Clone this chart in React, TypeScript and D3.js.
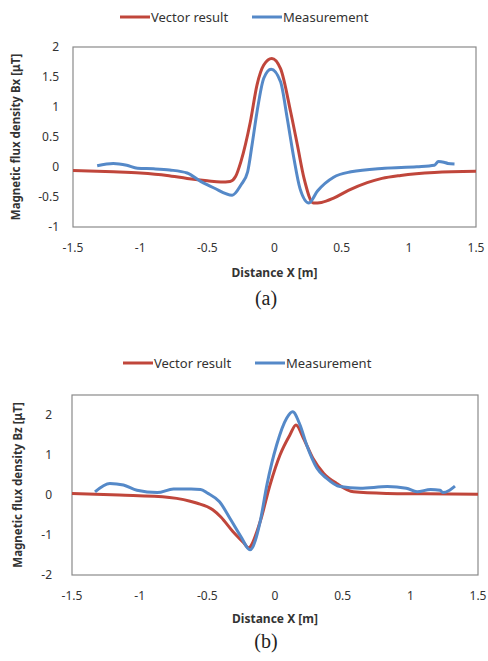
import React from 'react';
import * as d3 from 'd3';

// --- data ---
const xTicks = [-1.5, -1, -0.5, 0, 0.5, 1, 1.5];
const bxTicks = [-1, -0.5, 0, 0.5, 1, 1.5, 2];
const bzTicks = [-2, -1, 0, 1, 2];
const seriesNames = ['Vector result', 'Measurement'];

const vectorBx: [number, number][] = [
  [-1.5, -0.06], [-1.2, -0.08], [-1.0, -0.1], [-0.8, -0.14], [-0.65, -0.19],
  [-0.5, -0.23], [-0.4, -0.25], [-0.33, -0.24], [-0.29, -0.16], [-0.25, 0.09],
  [-0.18, 0.75], [-0.13, 1.37], [-0.08, 1.7], [-0.02, 1.81], [0.045, 1.64],
  [0.12, 0.92], [0.17, 0.37], [0.22, -0.19], [0.29, -0.6], [0.35, -0.59],
  [0.44, -0.52], [0.55, -0.39], [0.69, -0.26], [0.8, -0.19], [0.94, -0.14],
  [1.19, -0.09], [1.5, -0.07],
];
const measBx: [number, number][] = [
  [-1.32, 0.02], [-1.2, 0.06], [-1.1, 0.03], [-1.02, -0.02], [-0.9, -0.03],
  [-0.78, -0.05], [-0.65, -0.1], [-0.55, -0.24], [-0.45, -0.35], [-0.315, -0.47],
  [-0.25, -0.3], [-0.2, -0.08], [-0.167, 0.37], [-0.13, 0.92], [-0.08, 1.48],
  [-0.025, 1.63], [0.045, 1.42], [0.095, 0.81], [0.144, 0.15], [0.19, -0.36],
  [0.256, -0.6], [0.32, -0.4], [0.44, -0.17], [0.57, -0.08], [0.82, -0.02],
  [1.06, 0.005], [1.19, 0.03], [1.22, 0.09], [1.26, 0.08], [1.29, 0.06], [1.34, 0.05],
];
const vectorBz: [number, number][] = [
  [-1.5, 0.04], [-1.15, 0.0], [-0.78, -0.06], [-0.58, -0.2], [-0.46, -0.37],
  [-0.4, -0.55], [-0.31, -0.92], [-0.23, -1.2], [-0.197, -1.32], [-0.11, -0.67],
  [-0.037, 0.25], [0.037, 1.0], [0.11, 1.5], [0.155, 1.75], [0.21, 1.42],
  [0.28, 0.92], [0.36, 0.54], [0.456, 0.29], [0.58, 0.08], [0.83, 0.04],
  [1.07, 0.03], [1.5, 0.02],
];
const measBz: [number, number][] = [
  [-1.33, 0.08], [-1.22, 0.29], [-1.12, 0.25], [-1.02, 0.12], [-0.87, 0.06],
  [-0.75, 0.15], [-0.62, 0.15], [-0.55, 0.14], [-0.5, 0.05], [-0.41, -0.17],
  [-0.33, -0.6], [-0.25, -1.05], [-0.185, -1.37], [-0.11, -0.67], [-0.06, 0.25],
  [0.012, 1.25], [0.086, 1.92], [0.13, 2.08], [0.185, 1.75], [0.234, 1.25],
  [0.31, 0.67], [0.38, 0.42], [0.48, 0.21], [0.63, 0.17], [0.83, 0.21],
  [0.97, 0.17], [1.05, 0.08], [1.15, 0.14], [1.22, 0.12], [1.24, 0.06],
  [1.29, 0.12], [1.33, 0.22],
];

const RED = '#c0463b';
const BLUE = '#5589c8';
const FONT = '"Noto Sans", "Open Sans", sans-serif';

const Panel = (props: any) => {
  const {top, left, right, plotTop, plotBottom, yDomain, yTicks, yTitle, vec, meas, caption, legendX, labelGap, titleX} = props;
  const x = d3.scaleLinear().domain([-1.5, 1.5]).range([left, right]);
  const y = d3.scaleLinear().domain(yDomain).range([plotBottom, plotTop]);
  const line = d3.line<[number, number]>().x(d => x(d[0])).y(d => y(d[1])).curve(d3.curveMonotoneX);
  const legendY = top;
  return (
    <g>
      {/* legend */}
      <line x1={legendX} x2={legendX + 30} y1={legendY} y2={legendY} stroke={RED} strokeWidth={3} />
      <text x={legendX + 31} y={legendY + 4.5} fontSize={13} fill="#333" fontFamily={FONT}>{seriesNames[0]}</text>
      <line x1={legendX + 132} x2={legendX + 162} y1={legendY} y2={legendY} stroke={BLUE} strokeWidth={3} />
      <text x={legendX + 163} y={legendY + 4.5} fontSize={13} fill="#333" fontFamily={FONT}>{seriesNames[1]}</text>

      <rect x={left} y={plotTop} width={right - left} height={plotBottom - plotTop} fill="white" stroke="#8a8a8a" strokeWidth={1.2} />

      <path d={line(vec) || ''} fill="none" stroke={RED} strokeWidth={3} strokeLinejoin="round" />
      <path d={line(meas) || ''} fill="none" stroke={BLUE} strokeWidth={3} strokeLinejoin="round" />

      {yTicks.map((t: number) => (
        <text key={'y' + t} x={left - labelGap} y={y(t) + 4} textAnchor="end" fontSize={12} fill="#333" fontFamily={FONT}>{t}</text>
      ))}
      {xTicks.map(t => (
        <text key={'x' + t} x={x(t)} y={plotBottom + 25} textAnchor="middle" fontSize={12} fill="#333" fontFamily={FONT}>{t}</text>
      ))}
      <text x={x(0)} y={plotBottom + props.titleDy} textAnchor="middle" fontSize={12} fontWeight="bold" fill="#333" fontFamily={FONT}>Distance X [m]</text>
      <text transform={`translate(${titleX},${(plotTop + plotBottom) / 2}) rotate(-90)`} textAnchor="middle" fontSize={11.5} fontWeight="bold" fill="#333" fontFamily={FONT}>{yTitle}</text>
      <text x={266} y={props.captionY} textAnchor="middle" fontSize={20} fill="#222" fontFamily='"Liberation Serif", serif'>{caption}</text>
    </g>
  );
};

export default function App() {
  return (
    <svg width={488} height={661} style={{position: 'absolute', left: 0, top: 0, background: 'white'}}>
      <rect width={488} height={661} fill="white" />
      <Panel top={17} left={73} right={476} plotTop={47} plotBottom={227} yDomain={[-1, 2]} yTicks={bxTicks}
        yTitle="Magnetic flux density Bx [μT]" vec={vectorBx} meas={measBx} caption="(a)" captionY={305}
        legendX={120} labelGap={14} titleX={20} titleDy={50} />
      <Panel top={363} left={72} right={478} plotTop={395} plotBottom={575} yDomain={[-2, 2.5]} yTicks={bzTicks}
        yTitle="Magnetic flux density Bz [μT]" vec={vectorBz} meas={measBz} caption="(b)" captionY={648}
        legendX={123} labelGap={20} titleX={22} titleDy={48} />
    </svg>
  );
}
